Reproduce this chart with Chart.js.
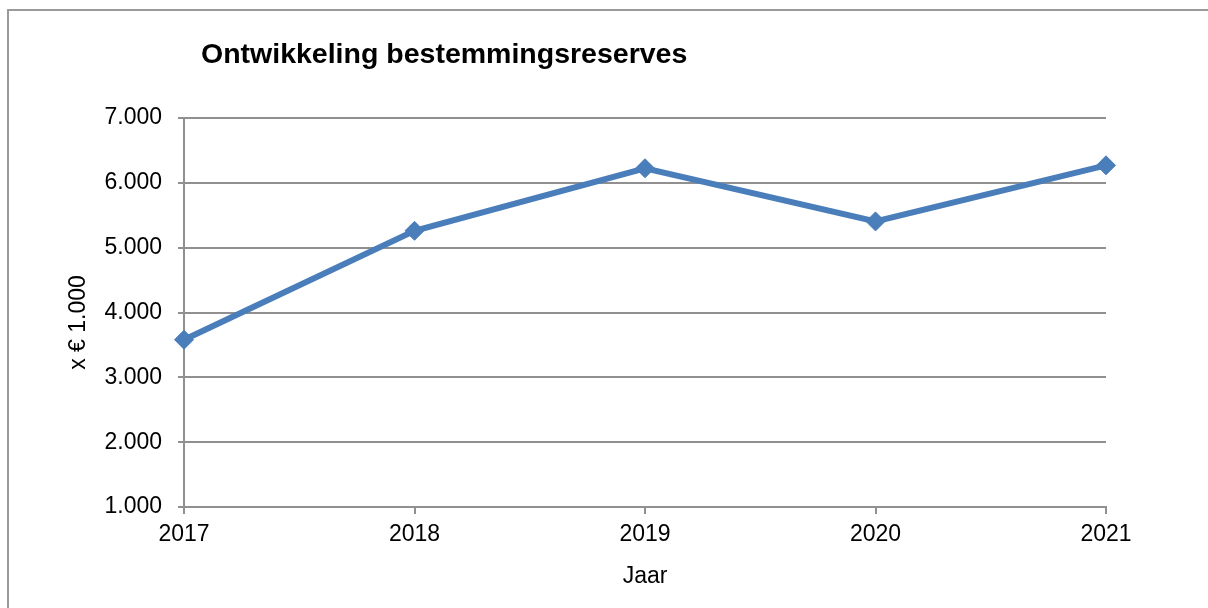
<!DOCTYPE html>
<html>
<head>
<meta charset="utf-8">
<script src="https://cdn.jsdelivr.net/npm/chart.js@4.4.1/dist/chart.umd.min.js"></script>
<style>
  html, body { margin: 0; padding: 0; background: #fff; overflow: hidden; }
  #wrap { position: relative; width: 1208px; height: 608px; }
  #frame { position: absolute; left: 7px; top: 9px; width: 1300px; height: 700px;
           border: 2px solid #9a9a9a; box-sizing: border-box; pointer-events: none; }
</style>
</head>
<body>
<div id="wrap">
  <canvas id="reserveChart"></canvas>
  <div id="frame"></div>
</div>
<script>
// data
const chartTitle = 'Ontwikkeling bestemmingsreserves';
const years = ['2017', '2018', '2019', '2020', '2021'];
const reserves = [3580, 5260, 6225, 5405, 6270];
const yTickValues = [1000, 2000, 3000, 4000, 5000, 6000, 7000];
const yAxisLabel = 'x € 1.000';
const xAxisLabel = 'Jaar';

const FONT = "'Liberation Sans', Arial, sans-serif";
const GRID = '#909090';

function fmt(v) {
    return String(v).replace(/\B(?=(\d{3})+(?!\d))/g, '.');
}

// chart title sits left-aligned above the plot; the y title sits a bit below the plot centre
const sideTexts = {
    id: 'sideTexts',
    afterDraw(chart) {
        const c = chart.ctx;
        const area = chart.chartArea;
        c.save();
        c.fillStyle = '#000';
        c.font = 'bold 28.5px ' + FONT;
        c.textBaseline = 'alphabetic';
        c.textAlign = 'left';
        c.fillText(chartTitle, 201, 63);

        c.font = '23px ' + FONT;
        c.textBaseline = 'middle';
        c.textAlign = 'center';
        c.translate(79, (area.top + area.bottom) / 2 + 10);
        c.rotate(-Math.PI / 2);
        c.fillText(yAxisLabel, 0, 0);
        c.restore();
    }
};

document.addEventListener('DOMContentLoaded', function() {
    const ctx = document.getElementById('reserveChart');
    new Chart(ctx, {
        type: 'line',
        data: {
            labels: years,
            datasets: [{
                label: chartTitle,
                data: reserves,
                borderColor: '#4a7ebb',
                backgroundColor: '#4a7ebb',
                borderWidth: 6,
                tension: 0,
                fill: false,
                pointStyle: 'rectRot',
                pointRadius: 9.5,
                pointBorderWidth: 1,
                pointBackgroundColor: '#4a7ebb',
                pointBorderColor: '#4a7ebb'
            }]
        },
        options: {
            responsive: true,
            maintainAspectRatio: false,
            animation: false,
            layout: { padding: { top: 118, right: 102, bottom: 0, left: 0 } },
            plugins: {
                legend: { display: false },
                title: { display: false },
                tooltip: { enabled: false }
            },
            scales: {
                x: {
                    type: 'category',
                    offset: false,
                    afterFit: function(s) { s.height = 101; },
                    grid: {
                        offset: false,
                        drawOnChartArea: false,
                        drawTicks: true,
                        tickLength: 7,
                        color: GRID,
                        lineWidth: 2
                    },
                    border: { color: GRID, width: 2 },
                    ticks: {
                        color: '#000',
                        padding: 7,
                        maxRotation: 0,
                        font: { family: FONT, size: 23 }
                    },
                    title: {
                        display: true,
                        text: xAxisLabel,
                        color: '#000',
                        font: { family: FONT, size: 23 },
                        padding: { top: 0, bottom: 18 }
                    }
                },
                y: {
                    min: yTickValues[0],
                    max: yTickValues[yTickValues.length - 1],
                    afterFit: function(s) { s.width = 184; },
                    afterBuildTicks: function(s) {
                        s.ticks = yTickValues.map(v => ({ value: v }));
                    },
                    grid: {
                        color: GRID,
                        lineWidth: 2,
                        drawTicks: true,
                        tickLength: 6
                    },
                    border: { color: GRID, width: 2 },
                    ticks: {
                        color: '#000',
                        padding: 16,
                        font: { family: FONT, size: 23 },
                        callback: function(v) { return fmt(v); }
                    }
                }
            }
        },
        plugins: [sideTexts]
    });
});
</script>
</body>
</html>
